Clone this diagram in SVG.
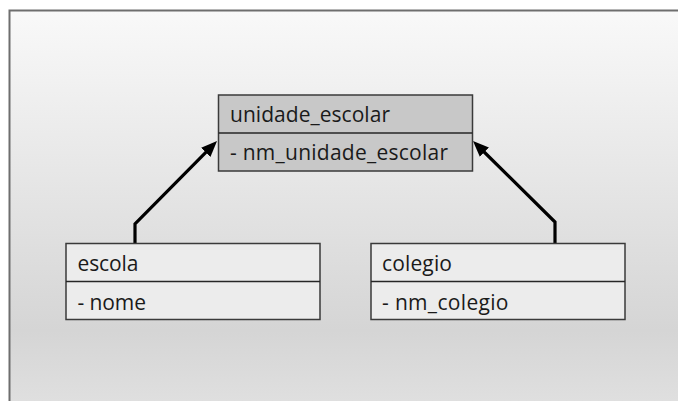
<svg xmlns="http://www.w3.org/2000/svg" width="678" height="401" viewBox="0 0 678 401">
  <defs>
    <linearGradient id="bg" x1="0" y1="0" x2="0" y2="1">
      <stop offset="0" stop-color="#f9f9f9"/>
      <stop offset="0.82" stop-color="#d5d5d5"/>
      <stop offset="1" stop-color="#dfdfdf"/>
    </linearGradient>
    <marker id="head" markerUnits="userSpaceOnUse" markerWidth="18" markerHeight="14" refX="6" refY="6.5" orient="auto">
      <path d="M0,0 L16,6.5 L0,13 z" fill="#000"/>
    </marker>
  </defs>
  <style>
    .box { stroke: #3a3a3a; stroke-width: 1.5; }
    .parent { fill: #c8c8c8; }
    .child { fill: #ececec; }
    .sep { stroke: #262626; stroke-width: 1.5; }
    .label { font-family: "Open Sans", "Noto Sans", sans-serif; font-size: 21px; fill: #1a1a1a; }
    .link { fill: none; stroke: #000; stroke-width: 3.2; stroke-linejoin: miter; marker-end: url(#head); }
  </style>

  <!-- canvas with top and left frame lines -->
  <rect x="10" y="10" width="668" height="391" fill="url(#bg)"/>
  <path d="M9.5,401 V10.5 H678" fill="none" stroke="#6e6e6e" stroke-width="2"/>

  <!-- generalisation connectors -->
  <g id="connectors">
    <path class="link" d="M135,243 V224 L210,148.1"/>
    <path class="link" d="M555,243 V222 L480.1,148"/>
  </g>

  <g id="unidade_escolar">
    <rect class="box parent" x="218.5" y="95" width="254" height="76"/>
    <line class="sep" x1="218.5" y1="133" x2="472.5" y2="133"/>
    <text class="label" x="230" y="122" textLength="160">unidade_escolar</text>
    <text class="label" x="230" y="159.5" textLength="218">- nm_unidade_escolar</text>
  </g>

  <g id="escola">
    <rect class="box child" x="66" y="243.5" width="254" height="76"/>
    <line class="sep" x1="66" y1="281.5" x2="320" y2="281.5"/>
    <text class="label" x="77.5" y="271" textLength="61">escola</text>
    <text class="label" x="77.5" y="309.5" textLength="68.5">- nome</text>
  </g>

  <g id="colegio">
    <rect class="box child" x="371" y="243.5" width="254" height="76"/>
    <line class="sep" x1="371" y1="281.5" x2="625" y2="281.5"/>
    <text class="label" x="382" y="271" textLength="70">colegio</text>
    <text class="label" x="382" y="309.5" textLength="126.5">- nm_colegio</text>
  </g>
</svg>
